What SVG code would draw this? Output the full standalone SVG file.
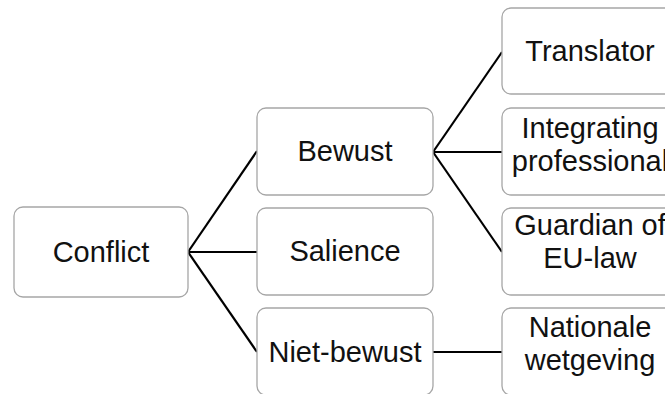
<svg xmlns="http://www.w3.org/2000/svg" width="665" height="394" viewBox="0 0 665 394">
<style>
.box{fill:#ffffff;stroke:#a6a6a6;stroke-width:1.3}
.t{font-family:"Liberation Sans",Arial,sans-serif;font-size:29px;fill:#111111;text-anchor:middle}
.c{stroke:#000000;stroke-width:2.2;fill:none}
</style>
<rect width="665" height="394" fill="#ffffff"/>
<g id="connectors">
<line class="c" x1="188" y1="252" x2="257" y2="151"/>
<line class="c" x1="188" y1="252" x2="257" y2="252"/>
<line class="c" x1="188" y1="252" x2="257" y2="352"/>
<line class="c" x1="433" y1="152" x2="502" y2="52"/>
<line class="c" x1="433" y1="152" x2="502" y2="152"/>
<line class="c" x1="433" y1="152" x2="502" y2="252"/>
<line class="c" x1="433" y1="352" x2="502" y2="352"/>
</g>
<g id="conflict">
<rect class="box" x="14" y="207" width="174" height="90" rx="9"/>
<text class="t" x="101" y="262">Conflict</text>
</g>
<g id="bewust">
<rect class="box" x="257" y="108" width="176" height="87" rx="9"/>
<text class="t" x="345" y="161">Bewust</text>
</g>
<g id="salience">
<rect class="box" x="257" y="208" width="176" height="87" rx="9"/>
<text class="t" x="345" y="261">Salience</text>
</g>
<g id="niet-bewust">
<rect class="box" x="257" y="308" width="176" height="87" rx="9"/>
<text class="t" x="345" y="362">Niet-bewust</text>
</g>
<g id="translator">
<rect class="box" x="502" y="8" width="176" height="86" rx="9"/>
<text class="t" x="590" y="61">Translator</text>
</g>
<g id="integrating">
<rect class="box" x="502" y="108" width="176" height="87" rx="9"/>
<text class="t" x="590" y="138">Integrating</text>
<text class="t" x="590" y="171">professional</text>
</g>
<g id="guardian">
<rect class="box" x="502" y="208" width="176" height="87" rx="9"/>
<text class="t" x="590" y="235">Guardian of</text>
<text class="t" x="590" y="268">EU-law</text>
</g>
<g id="nationale">
<rect class="box" x="502" y="308" width="176" height="87" rx="9"/>
<text class="t" x="590" y="337">Nationale</text>
<text class="t" x="590" y="370">wetgeving</text>
</g>
</svg>
